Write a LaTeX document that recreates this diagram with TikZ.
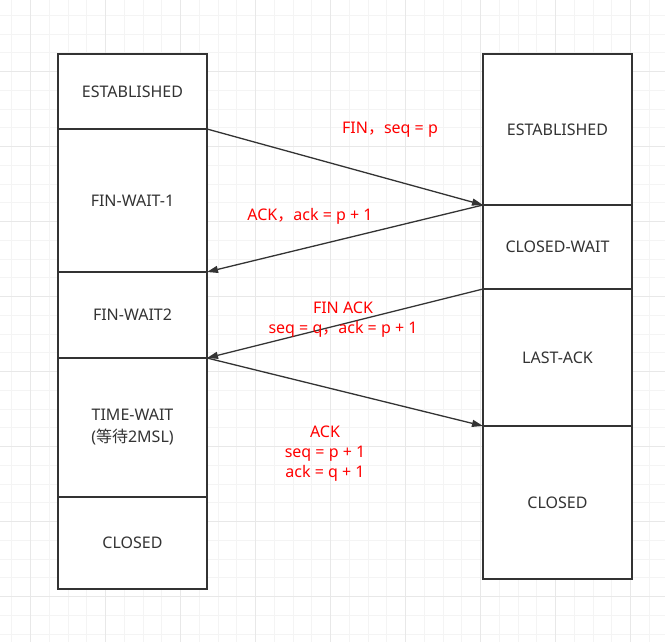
\documentclass[tikz,border=0pt]{standalone}
\usepackage{fontspec}
\setmainfont{Noto Sans}
\newfontfamily\cjk{Noto Sans CJK SC}
\usetikzlibrary{arrows.meta}
\definecolor{boxtext}{HTML}{333333}
\definecolor{msgred}{HTML}{FF0000}

\begin{document}
\begin{tikzpicture}[x = 1pt, y = -1pt, font = \fontsize{16}{20}\selectfont,
    statebox/.style = {draw = boxtext, line width = 1.3pt, fill = white, text = boxtext,
        minimum width = 149pt, inner sep = 0pt, outer sep = 0pt, align = center},
    msg/.style = {text = msgred, align = center},
    arrow/.style = {draw = boxtext, line width = 1.3pt, -{Triangle[length = 11pt, width = 7pt]}},
    minorgrid/.style = {draw = gray!9, line width = 1pt},
    majorgrid/.style = {draw = gray!18, line width = 1pt}]
    \useasboundingbox (0,0) rectangle (665,642);

    % background grid
    \foreach \gx in {0,...,34}
        \draw[minorgrid] (11.95 + 18.75*\gx, 0) -- (11.95 + 18.75*\gx, 642);
    \foreach \gy in {1,...,34}
        \draw[minorgrid] (0, -3.3 + 18.75*\gy) -- (665, -3.3 + 18.75*\gy);
    \foreach \gx in {0,...,8}
        \draw[majorgrid] (30.7 + 75*\gx, 0) -- (30.7 + 75*\gx, 642);
    \foreach \gy in {0,...,7}
        \draw[majorgrid] (0, 71.7 + 75*\gy) -- (665, 71.7 + 75*\gy);

    % client side
    \node[statebox, minimum height = 75pt] (lest) at (132.5, 91.5) {ESTABLISHED};
    \node[statebox, minimum height = 143pt] (lfw1) at (132.5, 200.5) {FIN-WAIT-1};
    \node[statebox, minimum height = 86pt] (lfw2) at (132.5, 315) {FIN-WAIT2};
    \node[statebox, minimum height = 139pt] (ltw) at (132.5, 427.5) {TIME-WAIT\\[2pt]({\cjk 等待}2MSL)};
    \node[statebox, minimum height = 92pt] (lclo) at (132.5, 543) {CLOSED};

    % server side
    \node[statebox, minimum height = 151pt] (rest) at (557.5, 129.5) {ESTABLISHED};
    \node[statebox, minimum height = 84pt] (rcw) at (557.5, 247) {CLOSED-WAIT};
    \node[statebox, minimum height = 137pt] (rla) at (557.5, 357.5) {LAST-ACK};
    \node[statebox, minimum height = 153pt] (rclo) at (557.5, 502.5) {CLOSED};

    % messages
    \draw[arrow] (lest.south east) -- (rest.south west);
    \draw[arrow] (rcw.north west) -- (lfw1.south east);
    \draw[arrow] (rla.north west) -- (ltw.north east);
    \draw[arrow] (ltw.north east) -- (rclo.north west);

    \node[msg] (finmsg) at (390, 130) {FIN{\cjk ，}seq = p};
    \node[msg] (ackmsg) at (310, 216) {ACK{\cjk ，}ack = p + 1};
    \node[msg] (finackmsg) at (343, 320) {FIN ACK\\seq = q{\cjk ，}ack = p + 1};
    \node[msg] (lastmsg) at (325, 454) {ACK\\seq = p + 1\\ack = q + 1};
\end{tikzpicture}
\end{document}
